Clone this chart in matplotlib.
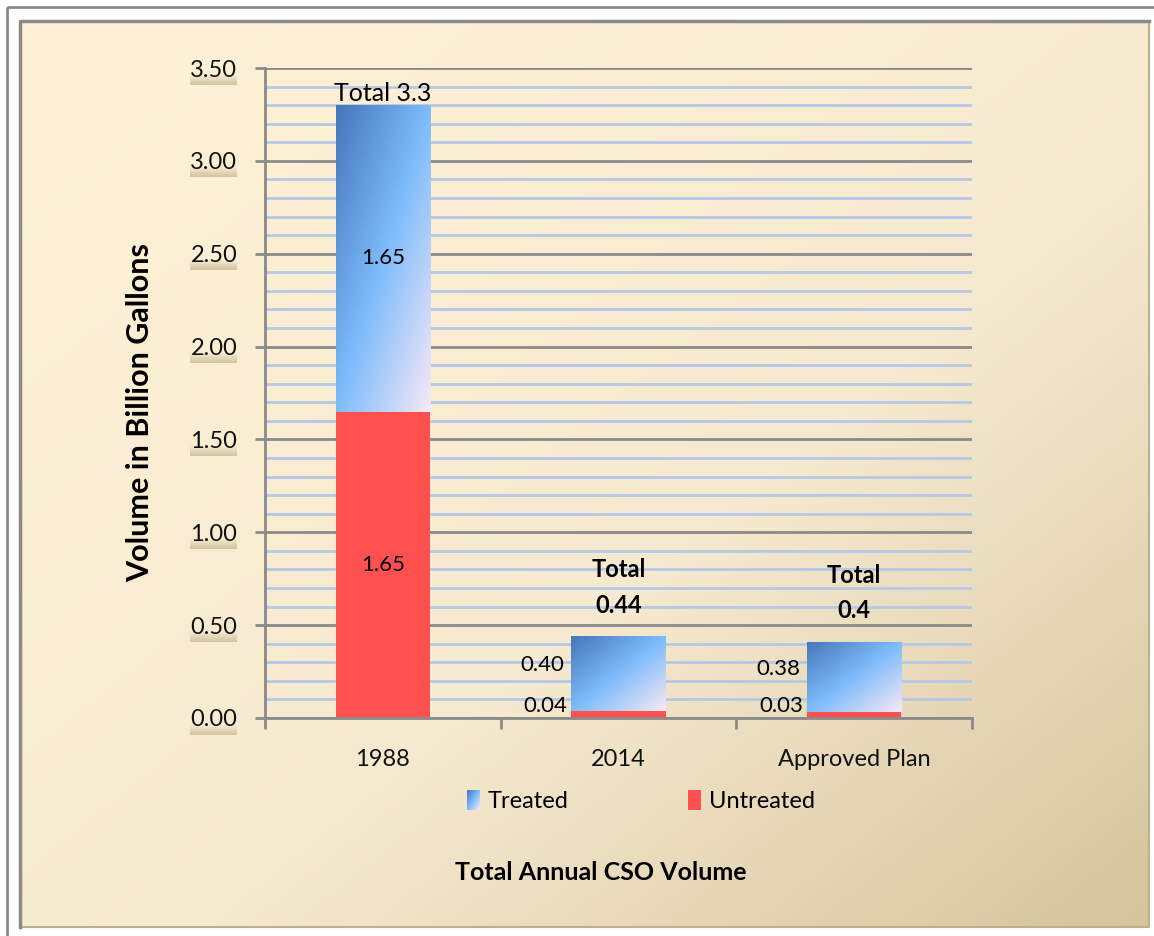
import numpy as np
import matplotlib
matplotlib.use('Agg')
import matplotlib.pyplot as plt
from matplotlib.colors import LinearSegmentedColormap
from matplotlib.patches import Rectangle
from matplotlib.legend_handler import HandlerBase
from matplotlib.image import BboxImage
from matplotlib.transforms import Bbox, TransformedBbox

# chart data
categories = ['1988', '2014', 'Approved Plan']
untreated = [1.65, 0.04, 0.03]
treated = [1.65, 0.40, 0.38]
total_labels = ['Total 3.3', 'Total\n0.44', 'Total\n0.4']
y_ticks = [0.0, 0.5, 1.0, 1.5, 2.0, 2.5, 3.0, 3.5]

plt.rcParams['font.family'] = ['Lato', 'DejaVu Sans']

W, H = 1154, 936
RED = '#ff5050'
GRAY = '#8a8a8a'

blue_cmap = LinearSegmentedColormap.from_list(
    'treated', ['#4676ba', '#7dbcfb', '#f8e8f6'])
bg_cmap = LinearSegmentedColormap.from_list(
    'panel', ['#fef1d6', '#f5e9cf', '#d5c49c'])


def diag_gradient(cmap, ny=120, nx=120, power=1.0):
    # dark at top-left, light at bottom-right
    u = np.linspace(0, 1, nx)[None, :]
    v = np.linspace(0, 1, ny)[:, None]
    t = ((u + v) / 2.0) ** power
    return cmap(t)


class GradientHandler(HandlerBase):
    def create_artists(self, legend, orig_handle, xdescent, ydescent,
                       width, height, fontsize, trans):
        bb = TransformedBbox(Bbox.from_bounds(-xdescent, -ydescent, width, height), trans)
        img = BboxImage(bb, interpolation='bilinear')
        img.set_data(diag_gradient(blue_cmap, 30, 10))
        return [img]


def main():
    fig = plt.figure(figsize=(W / 100, H / 100), dpi=100)
    fig.patch.set_facecolor('white')

    # background panel
    bg = fig.add_axes([0, 0, 1, 1], zorder=-10)
    bg.set_xlim(0, W)
    bg.set_ylim(H, 0)
    bg.axis('off')
    bg.imshow(diag_gradient(bg_cmap, 200, 200, 1.3), extent=[19, 1149, 927, 21],
              aspect='auto', interpolation='bilinear', zorder=1)
    bg.add_patch(Rectangle((7, 7), W, H, fill=False, ec=GRAY, lw=2, zorder=2))
    bg.plot([20, 20, 1149], [927, 21, 21], color=GRAY, lw=2.5, zorder=3)
    bg.plot([20, 1149, 1149], [927, 927, 21], color='#bdb08e', lw=1.5, zorder=2)

    ax = fig.add_axes([265 / W, 1 - 718 / H, (972 - 265) / W, (718 - 68) / H], zorder=1)
    ax.patch.set_visible(False)

    x = np.arange(len(categories))
    width = 0.4
    ax.bar(x, untreated, width, color=RED, zorder=3)
    tbars = ax.bar(x, treated, width, bottom=untreated, color='none', zorder=3)
    grad = diag_gradient(blue_cmap)
    for patch in tbars:
        x0, y0 = patch.get_x(), patch.get_y()
        im = ax.imshow(grad, extent=[x0, x0 + patch.get_width(), y0, y0 + patch.get_height()],
                       aspect='auto', interpolation='bilinear', zorder=3)
        im.set_clip_path(patch)

    ax.set_xlim(-0.5, 2.5)
    ax.set_ylim(0, 3.5)

    # value labels
    for i in range(len(categories)):
        if treated[i] > 1:
            ax.text(x[i], untreated[i] / 2, f'{untreated[i]:.2f}', ha='center', va='center',
                    fontsize=16, zorder=5)
            ax.text(x[i], untreated[i] + treated[i] / 2, f'{treated[i]:.2f}', ha='center',
                    va='center', fontsize=16, zorder=5)
            ax.annotate(total_labels[i], (x[i], untreated[i] + treated[i]),
                        xytext=(0, 0), textcoords='offset points', ha='center',
                        va='bottom', fontsize=18, zorder=5)
        else:
            left = x[i] - width / 2
            ax.annotate(f'{untreated[i]:.2f}', (left, 0), xytext=(-3, 9),
                        textcoords='offset points', ha='right', va='center', fontsize=16)
            ax.annotate(f'{treated[i]:.2f}', (left, (untreated[i] + treated[i]) * 0.65),
                        xytext=(-5, 0), textcoords='offset points', ha='right',
                        va='center', fontsize=16)
            ax.annotate(total_labels[i], (x[i], untreated[i] + treated[i]),
                        xytext=(0, 14), textcoords='offset points', ha='center',
                        va='bottom', fontsize=17, fontweight='bold', linespacing=1.65)

    # axes styling
    ax.set_yticks(y_ticks)
    ax.set_yticks(np.round(np.arange(0, 3.51, 0.1), 2), minor=True)
    ax.yaxis.set_major_formatter('{x:.2f}')
    ax.set_axisbelow(True)
    ax.grid(axis='y', which='major', color=GRAY, lw=2)
    ax.grid(axis='y', which='minor', color='#b5c8e8', lw=2)
    ax.tick_params(axis='y', which='minor', length=0)
    ax.tick_params(axis='y', which='major', length=7, width=2, color=GRAY, pad=13,
                   labelsize=17, labelcolor='#111111')
    ax.set_xticks(x, categories)
    ax.set_xticks([-0.5, 0.5, 1.5, 2.5], minor=True)
    ax.tick_params(axis='x', which='major', length=0, pad=22, labelsize=17,
                   labelcolor='#111111')
    ax.tick_params(axis='x', which='minor', length=8, width=2, color=GRAY)
    for side in ['top', 'right']:
        ax.spines[side].set_visible(False)
    for side in ['left', 'bottom']:
        ax.spines[side].set_color(GRAY)
        ax.spines[side].set_linewidth(2)
        ax.spines[side].set_zorder(4)

    # legend
    h_treated = Rectangle((0, 0), 1, 1, label='Treated')
    h_untreated = Rectangle((0, 0), 1, 1, fc=RED, label='Untreated')
    ax.legend(handles=[h_treated, h_untreated], handler_map={h_treated: GradientHandler()},
              loc='center', bbox_to_anchor=(641 / W, 1 - 801 / H),
              bbox_transform=fig.transFigure, ncol=2, frameon=False, fontsize=17,
              handlelength=0.55, handleheight=0.9, handletextpad=0.35, columnspacing=5.05)

    fig.text(140 / W, 1 - 412 / H, 'Volume in Billion Gallons', rotation=90,
             fontsize=22, fontweight='bold', ha='center', va='center')
    fig.text(601 / W, 1 - 873 / H, 'Total Annual CSO Volume', fontsize=18,
             fontweight='bold', ha='center', va='center')

    # shaded strip under each y tick label
    fig.canvas.draw()
    r = fig.canvas.get_renderer()
    shade = LinearSegmentedColormap.from_list('shade', ['#f6ebd1', '#d3c4a0'])(
        np.linspace(0, 1, 20))[:, None, :]
    for lab in ax.get_yticklabels():
        bb = lab.get_window_extent(r)
        sx = fig.add_axes([bb.x0 / W, (bb.y0 - 4) / H, bb.width / W, 10 / H], zorder=0.5)
        sx.imshow(shade, aspect='auto', interpolation='bilinear')
        sx.axis('off')

    fig.savefig('out.png', dpi=100)


if __name__ == '__main__':
    main()
